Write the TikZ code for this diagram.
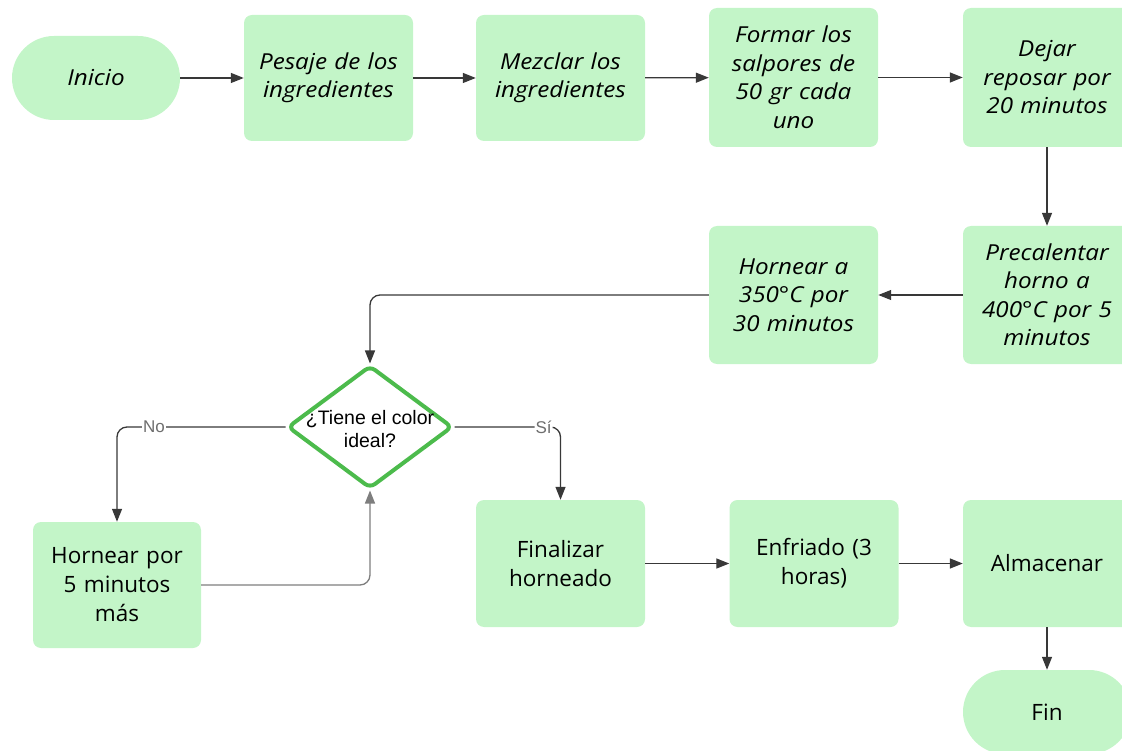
\documentclass[tikz,border=0pt]{standalone}
\usepackage{fontspec}
\setmainfont{Open Sans}
\newfontfamily\arialf{Liberation Sans}
\newfontfamily\itf[FakeStretch=1.1]{Open Sans}
\usetikzlibrary{arrows.meta,shapes.geometric}
\definecolor{boxfill}{HTML}{C3F5C8}
\definecolor{dgreen}{HTML}{4CBB4C}
\definecolor{lncol}{HTML}{383838}
\definecolor{lblcol}{HTML}{6E6E6E}
\tikzset{
  box/.style={rectangle, fill=boxfill, rounded corners=8pt, minimum width=169pt, inner sep=0pt,
    align=center, text width=164pt},
  itx/.style={font=\itf\fontsize{22}{28.5}\selectfont\itshape},
  upx/.style={font=\fontsize{22.5}{29}\selectfont},
  term/.style={rectangle, fill=boxfill, rounded corners=42pt, minimum width=168pt, minimum height=84pt, inner sep=0pt, align=center},
  decision/.style={diamond, draw=dgreen, line width=4pt, fill=white, rounded corners=6pt, minimum width=165pt, minimum height=123pt, inner sep=0pt},
  dtext/.style={font=\arialf\fontsize{19.5}{23}\selectfont, align=center},
  conn/.style={draw=lncol, line width=1.3pt, rounded corners=10pt, -{Triangle[length=13pt,width=10pt]}},
  connl/.style={conn, draw=lncol!65},
  lbl/.style={font=\arialf\fontsize{17}{18}\selectfont, text=lblcol, fill=white, inner sep=1pt},
}
\begin{document}
\begin{tikzpicture}[x=1pt,y=-1pt]
\useasboundingbox (0,0) rectangle (1122,751);
% top row
\node[term, itx] (ini) at (96,78) {Inicio};
\node[box, itx, minimum height=126pt] (pes) at (328.5,78) {Pesaje de los\\ingredientes};
\node[box, itx, minimum height=126pt] (mez) at (560.5,78) {Mezclar los\\ingredientes};
\node[box, itx, minimum height=139pt] (for) at (793.5,77.5) {Formar los\\salpores de\\50 gr cada\\uno};
\node[box, itx, minimum height=139pt, minimum width=168pt] (dej) at (1047,77.5) {Dejar\\reposar por\\20 minutos};
% second row
\node[box, itx, minimum height=138pt, minimum width=168pt] (pre) at (1047,295) {Precalentar\\horno a\\400°C por 5\\minutos};
\node[box, itx, minimum height=138pt] (h350) at (793.5,295) {Hornear a\\350°C por\\30 minutos};
% decision
\node[decision] (d) at (370,427) {};
\node[dtext] (dt) at (370,429) {¿Tiene el color\\ideal?};
% bottom row
\node[box, upx, minimum height=126pt, minimum width=168pt] (h5) at (117,585) {Hornear por\\5 minutos\\más};
\node[box, upx, minimum height=127pt] (fz) at (560.5,563.5) {Finalizar\\horneado};
\node[box, upx, minimum height=127pt] (enf) at (814,563.5) {Enfriado (3\\horas)};
\node[box, upx, minimum height=127pt, minimum width=168pt] (alm) at (1047,563.5) {Almacenar};
\node[term, upx] (fin) at (1047,712) {Fin};
% connectors
\draw[conn] (ini) -- (pes);
\draw[conn] (pes) -- (mez);
\draw[conn] (mez) -- (for);
\draw[conn] (for) -- (dej);
\draw[conn] (dej) -- (pre);
\draw[conn] (pre) -- (h350);
\draw[conn] (h350.west) -| (d.north);
\draw[conn] (d.west) -| node[lbl, pos=0.39] {No} (h5.north);
\draw[conn] (d.east) -| node[lbl, pos=0.42] {Sí} (fz.north);
\draw[connl] (h5.east) -| (d.south);
\draw[conn] (fz) -- (enf);
\draw[conn] (enf) -- (alm);
\draw[conn] (alm) -- (fin);
\end{tikzpicture}
\end{document}
